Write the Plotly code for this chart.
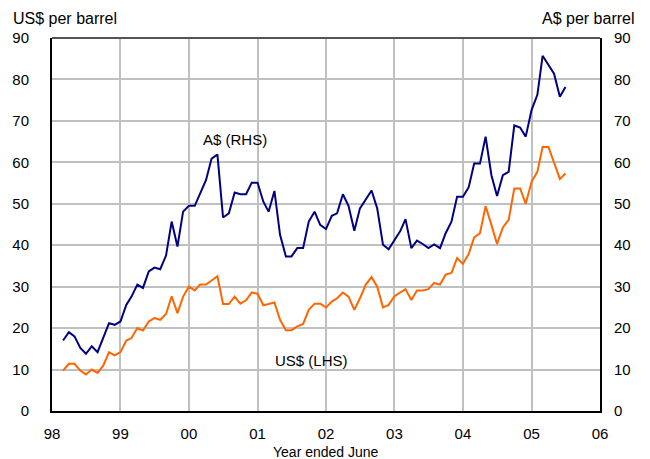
import plotly.graph_objects as go
import pandas as pd

# Monthly oil prices, Mar 1998 - Jul 2005
start_month = "1998-03-01"
aud_price = [17.0, 19.0, 18.0, 15.2, 13.8, 15.6, 14.2, 17.6, 21.2, 20.8,
             21.6, 25.6, 27.6, 30.5, 29.7, 33.7, 34.6, 34.2, 37.5, 45.7,
             39.7, 48.1, 49.5, 49.5, 52.5, 55.7, 60.9, 61.9, 46.7, 47.7,
             52.7, 52.3, 52.3, 55.1, 55.1, 50.5, 48.1, 53.1, 42.5, 37.3,
             37.3, 39.3, 39.3, 45.7, 48.1, 44.9, 43.9, 47.1, 47.7, 52.3,
             49.5, 43.5, 48.9, 51.1, 53.2, 48.9, 40.1, 39.0, 41.1, 43.4,
             46.3, 39.3, 41.1, 40.3, 39.3, 40.2, 39.3, 42.9, 45.7, 51.7,
             51.7, 54.0, 59.7, 59.7, 66.2, 56.9, 51.9, 56.9, 57.7, 68.9,
             68.4, 66.2, 72.6, 76.3, 85.7, 83.4, 81.4, 75.8, 78.2]
usd_price = [9.75, 11.4, 11.4, 9.75, 8.8, 10.0, 9.2, 10.95, 14.2, 13.4,
             14.2, 17.0, 17.6, 20.0, 19.4, 21.6, 22.4, 22.0, 23.4, 27.7,
             23.6, 27.6, 30.0, 29.1, 30.5, 30.5, 31.5, 32.5, 25.8, 25.8,
             27.6, 25.9, 26.7, 28.6, 28.3, 25.5, 25.8, 26.2, 22.0, 19.5,
             19.5, 20.4, 21.0, 24.4, 25.9, 25.9, 25.0, 26.4, 27.2, 28.6,
             27.6, 24.4, 27.2, 30.5, 32.3, 30.0, 25.0, 25.6, 27.7, 28.6,
             29.4, 26.8, 29.1, 29.1, 29.4, 30.9, 30.5, 32.9, 33.3, 36.9,
             35.5, 37.9, 41.9, 42.9, 49.4, 44.9, 40.3, 44.3, 46.1, 53.7,
             53.7, 50.0, 55.3, 57.7, 63.7, 63.7, 59.9, 56.0, 57.3]
tick_dates = ["1998-01-01", "1999-01-01", "2000-01-01", "2001-01-01", "2002-01-01",
              "2003-01-01", "2004-01-01", "2005-01-01", "2006-01-01"]
tick_labels = ["98", "99", "00", "01", "02", "03", "04", "05", "06"]
y_ticks = [0, 10, 20, 30, 40, 50, 60, 70, 80, 90]

dates = pd.date_range(start_month, periods=len(aud_price), freq="MS")

FONT = "Liberation Sans, Arial, sans-serif"
NAVY = "#000080"
ORANGE = "#FF6600"
GRID = "#c0c0c0"

fig = go.Figure()
fig.add_trace(go.Scatter(x=dates, y=usd_price, mode="lines", name="US$",
                         line=dict(color=ORANGE, width=2), yaxis="y"))
fig.add_trace(go.Scatter(x=dates, y=aud_price, mode="lines", name="A$",
                         line=dict(color=NAVY, width=2), yaxis="y2"))

# page body has an 8px default margin, so the figure is sized to fit the window
fig.update_layout(
    width=642, height=451,
    margin=dict(l=44, r=50, t=30, b=48, autoexpand=False),
    paper_bgcolor="white", plot_bgcolor="white",
    showlegend=False,
    font=dict(family=FONT, size=15, color="black"),
    xaxis=dict(
        type="date", range=[tick_dates[0], tick_dates[-1]],
        tickmode="array", tickvals=tick_dates, ticktext=tick_labels,
        showgrid=True, gridcolor=GRID, gridwidth=1.5,
        showline=True, linecolor="black", linewidth=2,
        ticks="", ticklabelstandoff=8,
        tickfont=dict(size=15),
        zeroline=False,
    ),
    yaxis=dict(
        range=[0, 90], tickvals=y_ticks,
        showgrid=True, gridcolor=GRID, gridwidth=1.5,
        showline=True, linecolor="black", linewidth=2,
        ticks="", ticklabelstandoff=18, tickfont=dict(size=15),
        zeroline=False,
    ),
    yaxis2=dict(
        range=[0, 90], tickvals=y_ticks, overlaying="y", side="right",
        showgrid=False,
        showline=True, linecolor="black", linewidth=2,
        ticks="", ticklabelstandoff=9, tickfont=dict(size=15),
        zeroline=False,
    ),
)

# top border
fig.add_shape(type="line", xref="paper", yref="paper", x0=0, x1=1, y0=1, y1=1,
              line=dict(color="#555555", width=2))

fig.add_annotation(text="US$ per barrel", xref="paper", yref="paper",
                   x=-0.074, y=1.052, xanchor="left", yanchor="middle",
                   showarrow=False, font=dict(size=16))
fig.add_annotation(text="A$ per barrel", xref="paper", yref="paper",
                   x=1.068, y=1.052, xanchor="right", yanchor="middle",
                   showarrow=False, font=dict(size=16))
fig.add_annotation(text="Year ended June", xref="paper", yref="paper",
                   x=0.5, y=-0.109, xanchor="center", yanchor="middle",
                   showarrow=False, font=dict(size=14))
fig.add_annotation(text="A$ (RHS)", x="2000-09-05", y=65.5, yref="y",
                   showarrow=False, font=dict(size=15))
fig.add_annotation(text="US$ (LHS)", x="2001-10-15", y=12.3, yref="y",
                   showarrow=False, font=dict(size=15))

fig.write_html("out.html")
